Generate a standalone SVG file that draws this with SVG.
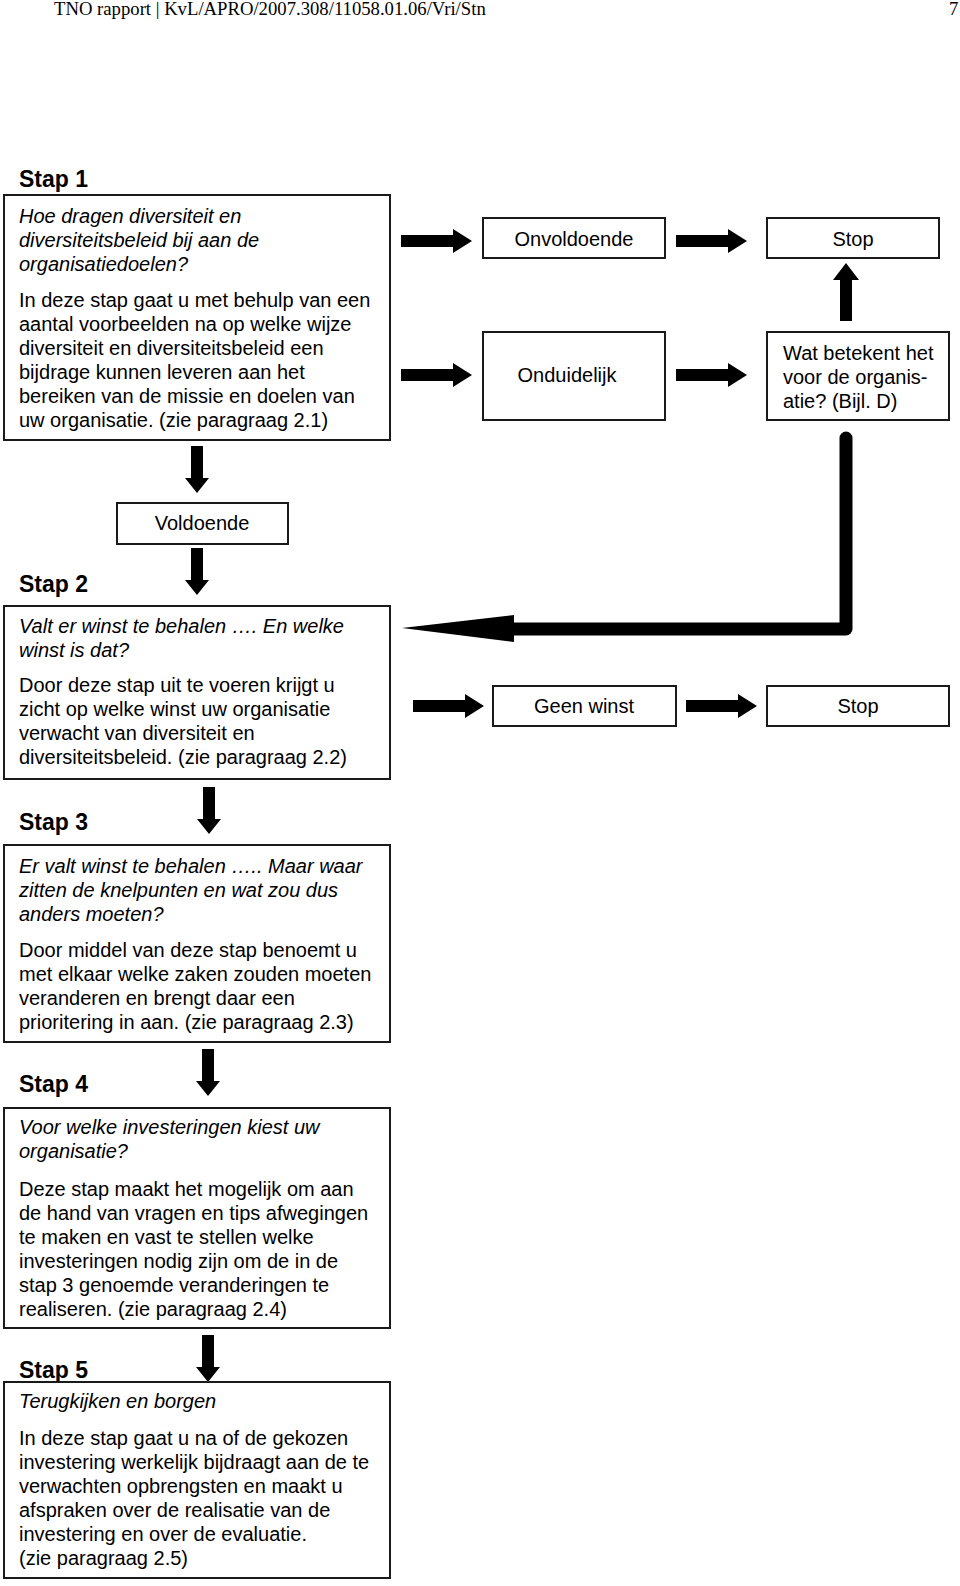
<svg xmlns="http://www.w3.org/2000/svg" xmlns:xlink="http://www.w3.org/1999/xlink" width="960" height="1586" viewBox="0 0 960 1586">
<style>
.bx{fill:#fff;stroke:#1a1a1a;stroke-width:2}
.t{font-family:"Liberation Sans",Arial,sans-serif;font-size:20px;fill:#000}
.i{font-style:italic}
.h{font-family:"Liberation Sans",Arial,sans-serif;font-size:23px;font-weight:bold;fill:#000}
.hd{font-family:"Liberation Serif","Times New Roman",serif;font-size:18.7px;fill:#000}
.ar{fill:#000}
</style>
<defs>
<path id="arR" d="M0,-6H52V-12L71,0L52,12V6H0Z"/>
<path id="arD" d="M-6,0H6V32H12L0,47L-12,32H-6Z"/>
</defs>
<rect width="960" height="1586" fill="#fff"/>
<text class="hd" x="54" y="15">TNO rapport | KvL/APRO/2007.308/11058.01.06/Vri/Stn</text>
<text class="hd" x="949" y="15">7</text>

<g id="connectors" class="ar">
<use xlink:href="#arR" x="401" y="241"/>
<use xlink:href="#arR" x="676" y="241"/>
<use xlink:href="#arR" x="401" y="375"/>
<use xlink:href="#arR" x="676" y="375"/>
<use xlink:href="#arR" x="413" y="706"/>
<use xlink:href="#arR" x="686" y="706"/>
<path d="M840,321V280H833L846,263L859,280H852V321Z"/>
<use xlink:href="#arD" x="197" y="446"/>
<use xlink:href="#arD" x="197" y="548"/>
<use xlink:href="#arD" x="209" y="787"/>
<use xlink:href="#arD" x="208" y="1049"/>
<use xlink:href="#arD" x="208" y="1335"/>
<path d="M846,438V629H512" fill="none" stroke="#000" stroke-width="13" stroke-linejoin="round" stroke-linecap="round"/>
<path d="M514,615L514,642L402,628Z"/>
</g>

<g id="stap1">
<text class="h" x="19" y="187">Stap 1</text>
<rect class="bx" x="4" y="195" width="386" height="245"/>
<text class="t i" x="19" y="223">Hoe dragen diversiteit en</text>
<text class="t i" x="19" y="247">diversiteitsbeleid bij aan de</text>
<text class="t i" x="19" y="271">organisatiedoelen?</text>
<text class="t" x="19" y="307">In deze stap gaat u met behulp van een</text>
<text class="t" x="19" y="331">aantal voorbeelden na op welke wijze</text>
<text class="t" x="19" y="355">diversiteit en diversiteitsbeleid een</text>
<text class="t" x="19" y="379">bijdrage kunnen leveren aan het</text>
<text class="t" x="19" y="403">bereiken van de missie en doelen van</text>
<text class="t" x="19" y="427">uw organisatie. (zie paragraag 2.1)</text>
</g>

<g id="onvoldoende">
<rect class="bx" x="483" y="218" width="182" height="40"/>
<text class="t" x="574" y="246" text-anchor="middle">Onvoldoende</text>
</g>
<g id="stop1">
<rect class="bx" x="767" y="218" width="172" height="40"/>
<text class="t" x="853" y="246" text-anchor="middle">Stop</text>
</g>
<g id="onduidelijk">
<rect class="bx" x="483" y="332" width="182" height="88"/>
<text class="t" x="567" y="382" text-anchor="middle">Onduidelijk</text>
</g>
<g id="watbetekent">
<rect class="bx" x="767" y="332" width="182" height="88"/>
<text class="t" x="783" y="360">Wat betekent het</text>
<text class="t" x="783" y="384">voor de organis-</text>
<text class="t" x="783" y="408">atie? (Bijl. D)</text>
</g>

<g id="voldoende">
<rect class="bx" x="117" y="503" width="171" height="41"/>
<text class="t" x="202" y="530" text-anchor="middle">Voldoende</text>
</g>

<g id="stap2">
<text class="h" x="19" y="592">Stap 2</text>
<rect class="bx" x="4" y="606" width="386" height="173"/>
<text class="t i" x="19" y="633">Valt er winst te behalen …. En welke</text>
<text class="t i" x="19" y="657">winst is dat?</text>
<text class="t" x="19" y="692">Door deze stap uit te voeren krijgt u</text>
<text class="t" x="19" y="716">zicht op welke winst uw organisatie</text>
<text class="t" x="19" y="740">verwacht van diversiteit en</text>
<text class="t" x="19" y="764">diversiteitsbeleid. (zie paragraag 2.2)</text>
</g>

<g id="geenwinst">
<rect class="bx" x="493" y="686" width="183" height="40"/>
<text class="t" x="584" y="713" text-anchor="middle">Geen winst</text>
</g>
<g id="stop2">
<rect class="bx" x="767" y="686" width="182" height="40"/>
<text class="t" x="858" y="713" text-anchor="middle">Stop</text>
</g>

<g id="stap3">
<text class="h" x="19" y="830">Stap 3</text>
<rect class="bx" x="4" y="845" width="386" height="197"/>
<text class="t i" x="19" y="873">Er valt winst te behalen ….. Maar waar</text>
<text class="t i" x="19" y="897">zitten de knelpunten en wat zou dus</text>
<text class="t i" x="19" y="921">anders moeten?</text>
<text class="t" x="19" y="957">Door middel van deze stap benoemt u</text>
<text class="t" x="19" y="981">met elkaar welke zaken zouden moeten</text>
<text class="t" x="19" y="1005">veranderen en brengt daar een</text>
<text class="t" x="19" y="1029">prioritering in aan. (zie paragraag 2.3)</text>
</g>

<g id="stap4">
<text class="h" x="19" y="1092">Stap 4</text>
<rect class="bx" x="4" y="1108" width="386" height="220"/>
<text class="t i" x="19" y="1134">Voor welke investeringen kiest uw</text>
<text class="t i" x="19" y="1158">organisatie?</text>
<text class="t" x="19" y="1196">Deze stap maakt het mogelijk om aan</text>
<text class="t" x="19" y="1220">de hand van vragen en tips afwegingen</text>
<text class="t" x="19" y="1244">te maken en vast te stellen welke</text>
<text class="t" x="19" y="1268">investeringen nodig zijn om de in de</text>
<text class="t" x="19" y="1292">stap 3 genoemde veranderingen te</text>
<text class="t" x="19" y="1316">realiseren. (zie paragraag 2.4)</text>
</g>

<g id="stap5">
<text class="h" x="19" y="1378">Stap 5</text>
<rect class="bx" x="4" y="1382" width="386" height="196"/>
<text class="t i" x="19" y="1408">Terugkijken en borgen</text>
<text class="t" x="19" y="1445">In deze stap gaat u na of de gekozen</text>
<text class="t" x="19" y="1469">investering werkelijk bijdraagt aan de te</text>
<text class="t" x="19" y="1493">verwachten opbrengsten en maakt u</text>
<text class="t" x="19" y="1517">afspraken over de realisatie van de</text>
<text class="t" x="19" y="1541">investering en over de evaluatie.</text>
<text class="t" x="19" y="1565">(zie paragraag 2.5)</text>
</g>
</svg>
